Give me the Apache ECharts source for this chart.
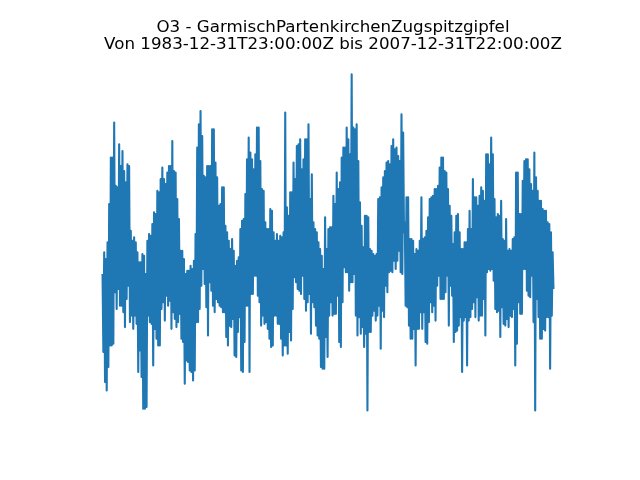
<!DOCTYPE html>
<html>
<head>
<meta charset="utf-8">
<script src="https://cdn.jsdelivr.net/npm/echarts@6/dist/echarts.min.js"></script>
<style>html,body{margin:0;padding:0;background:#fff;}#c{width:640px;height:480px;}</style>
</head>
<body>
<div id="c"></div>
<script>
// O3 values: for each short time step, a high and a low value (arbitrary units)
const titleLines = ["O3 - GarmischPartenkirchenZugspitzgipfel", "Von 1983-12-31T23:00:00Z bis 2007-12-31T22:00:00Z"];
const highs1 = [56.8,65.5,62.8,69.5,84.8,103.5,103.5,117.5,92.1,91.5,108.8,100.1,106.1,98.1,93.5,100.8,100.1,74.1,70.1,71.5,69.5,65.5,61.5,61.5,64.8,64.1,56.8,70.1,72.8,72.1,76.8,81.5,80.8,90.1,89.5,94.8,99.5,94.8,92.8,97.5,100.1,100.1,110.1,98.1,97.5,86.8,78.8,66.1,66.1,62.8,56.8,58.1,58.1,60.1,58.8,62.1,72.8,107.5,116.8,122.1,112.1,96.1,95.5,100.1,100.1,100.1,114.8,114.8];
const lows1  = [25.5,13.5,10.1,19.5,28.1,28.1,28.8,49.5,42.8,50.8,44.1,44.1,41.5,35.5,46.8,52.1,37.5,40.1,34.8,40.1,36.8,17.5,26.1,15.5,2.8,2.8,3.5,40.1,37.5,36.8,20.1,34.8,30.8,28.1,28.1,42.8,45.5,38.1,48.1,44.1,46.1,34.8,41.5,38.8,35.5,37.5,40.8,30.8,29.5,12.8,22.1,21.5,18.1,17.5,14.1,18.1,37.5,37.5,42.8,52.1,58.8,52.8,43.5,32.1,53.5,50.1,44.1,41.5];
const highs2 = [101.5,95.5,84.1,84.8,91.5,91.5,76.1,73.5,70.1,66.8,70.8,66.1,60.1,62.1,63.5,74.8,78.1,78.8,88.8,102.8,111.5,105.5,102.8,98.8,104.8,115.5,115.5,102.1,90.8,90.1,77.5,74.8,74.8,82.8,82.1,73.5,70.1,72.8,70.1,72.1,71.5,73.5,121.5,83.5,80.1,89.5,89.5,101.5,94.8,108.1,108.8,110.8,98.8,102.8,110.8,110.8,116.8,86.8,96.8,77.5,74.8,73.5,69.5,66.8,64.1,58.8,79.5,66.8,74.8,75.5];
const lows2  = [46.8,45.5,44.1,43.5,41.5,41.5,31.5,28.1,36.1,35.5,38.8,24.1,23.5,33.5,39.5,18.1,17.5,29.5,44.1,44.1,17.5,48.8,48.8,56.1,56.1,48.1,45.5,36.1,40.1,36.8,37.5,34.8,30.8,27.5,28.1,40.1,40.1,36.8,36.8,30.8,24.1,28.1,28.1,24.8,33.5,30.1,42.8,55.5,53.5,50.8,50.1,48.8,56.1,46.8,42.1,45.5,48.8,32.8,45.5,43.5,36.1,32.1,30.8,19.5,18.8,18.8,31.5,23.5,40.1,45.5];
const highs3 = [75.5,88.1,84.8,97.5,90.8,93.5,103.5,107.5,107.5,115.5,110.8,104.8,136.8,115.5,114.8,116.8,102.1,85.5,76.1,67.5,80.1,80.1,79.5,66.8,66.1,64.8,64.1,64.8,86.8,87.5,91.5,95.5,98.1,101.5,102.1,100.8,108.1,110.8,106.8,107.5,104.1,102.1,120.8,113.5,77.5,87.5,87.5,70.8,70.8,70.1,64.8,66.8,66.1,70.1,87.5,70.8,71.5,74.1,79.5,86.8,87.5,88.1,90.8,90.8,92.1,99.5,103.5,103.5,98.1,97.5];
const lows3  = [40.1,40.8,40.8,48.1,29.5,27.5,45.5,59.5,57.5,57.5,50.1,53.5,53.5,56.8,40.1,32.1,39.5,32.8,35.5,27.5,32.8,2.1,33.5,33.5,40.1,42.1,38.1,40.1,44.1,26.8,42.1,39.5,52.1,49.5,57.5,58.1,57.5,62.1,58.8,62.1,66.1,57.5,56.8,73.5,44.1,43.5,36.1,30.8,30.8,34.8,20.1,34.8,34.8,41.5,34.8,41.5,29.5,28.8,37.5,45.5,41.5,44.1,38.1,52.1,56.1,46.8,46.8,46.8,49.5,56.1];
const highs4 = [90.8,84.1,80.1,68.8,73.5,80.1,80.8,73.5,66.8,66.8,69.5,69.5,74.8,82.1,74.8,94.8,87.5,87.5,84.1,88.1,91.5,90.1,86.1,104.8,104.8,100.8,111.5,104.8,86.8,79.5,80.8,80.1,86.1,70.8,70.1,78.8,66.1,66.8,66.1,70.8,71.5,97.5,97.5,80.8,80.8,94.1,102.1,102.8,102.8,98.8,92.8,90.1,105.5,95.5,90.1,86.1,86.1,82.8,82.1,82.1,77.5,76.8,73.5,65.5];
const lows4  = [36.1,52.1,48.1,29.5,33.5,34.1,36.1,39.5,17.5,38.1,39.5,20.1,38.1,39.5,42.8,45.5,39.5,47.5,38.1,40.1,40.1,46.8,32.1,57.5,58.8,58.1,58.8,54.1,42.8,41.5,42.1,31.5,43.5,36.8,36.1,38.8,35.5,40.1,39.5,42.8,20.1,28.8,45.5,40.8,40.8,58.8,58.8,50.1,48.1,47.5,56.1,37.5,2.1,46.8,39.5,30.8,30.8,34.8,34.1,39.5,39.5,18.8,40.1,50.8];

const highs = highs1.concat(highs2, highs3, highs4);
const lows = lows1.concat(lows2, lows3, lows4);
const values = [];
for (let i = 0; i < highs.length; i++) { values.push(highs[i]); values.push(lows[i]); }
const seriesData = values.map((v, i) => [i, v]);

const n = values.length - 1;
const vmax = Math.max.apply(null, values), vmin = Math.min.apply(null, values);
const span = vmax - vmin;

const chart = echarts.init(document.getElementById('c'), null, {renderer: 'canvas'});
chart.setOption({
  animation: false,
  backgroundColor: '#ffffff',
  title: {
    text: titleLines.join('\n'),
    left: 328, top: 14.5, textAlign: 'center',
    textStyle: {fontFamily: 'DejaVu Sans', fontWeight: 'normal', fontSize: 16.7, color: '#000', lineHeight: 16.5}
  },
  grid: {left: 80, right: 64, top: 57.6, bottom: 52.8, containLabel: false},
  xAxis: {type: 'value', min: -0.05 * n, max: 1.05 * n, show: false},
  yAxis: {type: 'value', min: vmin - 0.05 * span, max: vmax + 0.05 * span, show: false},
  series: [{
    type: 'line', data: seriesData, showSymbol: false, symbol: 'none',
    lineStyle: {color: '#1f77b4', width: 2.1, join: 'round'}, silent: true
  }]
});
</script>
</body>
</html>
